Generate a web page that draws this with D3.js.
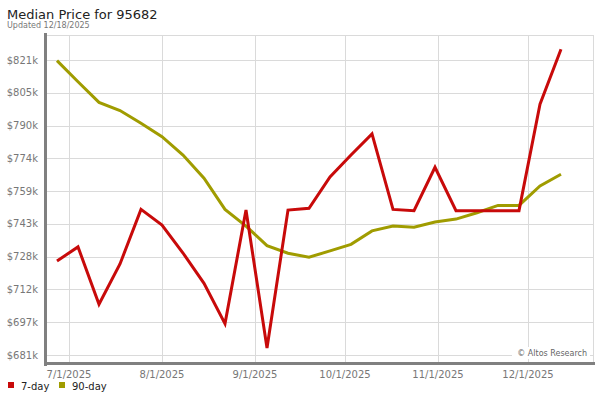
<!DOCTYPE html>
<html>
<head>
<meta charset="utf-8">
<script src="https://cdn.jsdelivr.net/npm/d3@7"></script>
<style>
  body { margin: 0; background: #fff; }
  svg { font-family: "DejaVu Sans", sans-serif; display: block; }
</style>
</head>
<body>
<svg id="chart" width="600" height="400"></svg>
<script>
// weekly dates
const dates = [
  '2025-06-27', '2025-07-04', '2025-07-11', '2025-07-18', '2025-07-25',
  '2025-08-01', '2025-08-08', '2025-08-15', '2025-08-22', '2025-08-29',
  '2025-09-05', '2025-09-12', '2025-09-19', '2025-09-26', '2025-10-03',
  '2025-10-10', '2025-10-17', '2025-10-24', '2025-10-31', '2025-11-07',
  '2025-11-14', '2025-11-21', '2025-11-28', '2025-12-05', '2025-12-12'
];
const sevenDay = [
  725600, 732300, 705100, 724200, 750100, 742700, 729400, 715000, 695900, 749800,
  684300, 749800, 750600, 765500, 775900, 785900, 750100, 749500, 770100, 749500,
  749500, 749500, 749500, 800000, 826100
];
const ninetyDay = [
  820700, 810700, 800900, 797000, 791000, 784600, 775900, 764900, 750100, 742200,
  732900, 729300, 727400, 730400, 733500, 739900, 742200, 741600, 744100, 745500,
  748500, 752000, 752000, 761200, 766800
];
const yTicks = [681000, 696556, 712111, 727667, 743222, 758778, 774333, 789889, 805444, 821000];
const xTicks = ['2025-07-01', '2025-08-01', '2025-09-01', '2025-10-01', '2025-11-01', '2025-12-01'];
const seriesNames = ['7-day', '90-day'];
const seriesColors = ['#c80a0a', '#a09c00'];

const parse = d3.utcParse('%Y-%m-%d');
const svg = d3.select('#chart');

const plotLeft = 47, plotRight = 593, plotTop = 35, plotBottom = 363;

const x = d3.scaleUtc()
  .domain([parse('2025-07-01'), parse('2025-12-01')])
  .range([69, 528]);
const y = d3.scaleLinear()
  .domain([681000, 821000])
  .range([355, 60]);

// title
svg.append('text').attr('x', 7).attr('y', 19)
  .attr('font-size', 13).attr('fill', '#222')
  .text('Median Price for 95682');
svg.append('text').attr('x', 7).attr('y', 28)
  .attr('font-size', 8).attr('fill', '#777')
  .text('Updated 12/18/2025');

// grid
const grid = svg.append('g').attr('stroke', '#dadada').attr('stroke-width', 1);
grid.append('line').attr('x1', plotLeft).attr('x2', plotRight).attr('y1', plotTop + 0.5).attr('y2', plotTop + 0.5);
grid.append('line').attr('x1', plotRight + 0.5).attr('x2', plotRight + 0.5).attr('y1', plotTop).attr('y2', plotBottom);
yTicks.forEach(t => {
  const yy = Math.round(y(t)) + 0.5;
  grid.append('line').attr('x1', plotLeft).attr('x2', plotRight).attr('y1', yy).attr('y2', yy);
});
xTicks.forEach(t => {
  const xx = Math.round(x(parse(t))) + 0.5;
  grid.append('line').attr('x1', xx).attr('x2', xx).attr('y1', plotTop).attr('y2', plotBottom);
});

// y labels
yTicks.forEach(t => {
  svg.append('text')
    .attr('x', 38).attr('y', y(t) + 3.5)
    .attr('text-anchor', 'end')
    .attr('font-size', 10).attr('fill', '#777')
    .text(`$${Math.round(t / 1000)}k`);
});

// x labels
const fmt = d3.utcFormat('%-m/%-d/%Y');
xTicks.forEach(t => {
  svg.append('text')
    .attr('x', x(parse(t))).attr('y', 378)
    .attr('text-anchor', 'middle')
    .attr('font-size', 10).attr('fill', '#777')
    .text(fmt(parse(t)));
});

// watermark
svg.append('rect').attr('x', 512).attr('y', 347).attr('width', 78).attr('height', 12).attr('fill', '#fff');
svg.append('text').attr('x', 587).attr('y', 356)
  .attr('text-anchor', 'end').attr('font-size', 8).attr('fill', '#666')
  .text('\u00a9 Altos Research');

// lines (90-day under 7-day)
const line = d3.line()
  .x((d, i) => x(parse(dates[i])))
  .y(d => y(d));

[[ninetyDay, 1], [sevenDay, 0]].forEach(([s, i]) => {
  svg.append('path')
    .attr('d', line(s))
    .attr('fill', 'none')
    .attr('stroke', seriesColors[i])
    .attr('stroke-width', 3)
    .attr('stroke-linejoin', 'miter');
});

// axis bars
svg.append('rect').attr('x', 44).attr('y', 33).attr('width', 3).attr('height', 333).attr('fill', '#808080');
svg.append('rect').attr('x', 44).attr('y', 362).attr('width', 551).attr('height', 3).attr('fill', '#808080');

// legend
const legendX = [8, 59];
seriesNames.forEach((name, i) => {
  svg.append('rect').attr('x', legendX[i]).attr('y', 382).attr('width', 6).attr('height', 6)
    .attr('fill', seriesColors[i]);
  svg.append('text').attr('x', legendX[i] + 13).attr('y', 390)
    .attr('font-size', 10).attr('fill', '#222')
    .text(name);
});
</script>
</body>
</html>
